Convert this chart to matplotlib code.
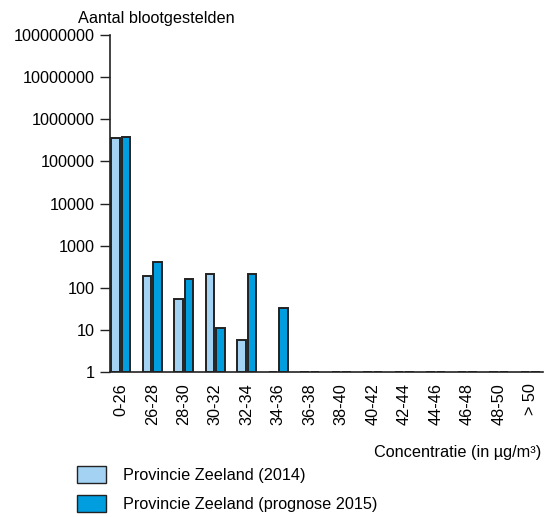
import numpy as np
import matplotlib
matplotlib.use("Agg")
import matplotlib.pyplot as plt
from matplotlib.patches import Patch

plt.rcParams['font.family'] = ['Liberation Sans', 'DejaVu Sans']

categories = ['0-26', '26-28', '28-30', '30-32', '32-34', '34-36', '36-38',
              '38-40', '40-42', '42-44', '44-46', '46-48', '48-50', '> 50']
zeeland_2014 = [370000, 190, 53, 210, 5.6, 0, 0, 0, 0, 0, 0, 0, 0, 0]
zeeland_2015 = [375000, 400, 166, 11.3, 210, 34, 0, 0, 0, 0, 0, 0, 0, 0]
yticks = [1, 10, 100, 1000, 10000, 100000, 1000000, 10000000, 100000000]

light = '#a3d2f3'
dark = '#009ddf'
edge = '#222222'
fs = 11.7

fig = plt.figure(figsize=(5.44, 5.17), dpi=100)
ax = fig.add_axes([0.202, 0.2805, 0.796, 0.6515])

x = np.arange(len(categories))
w = 0.27
off = 0.165
h1 = np.maximum(zeeland_2014, 1) - 1
h2 = np.maximum(zeeland_2015, 1) - 1
ax.bar(x - off, h1, w, bottom=1, color=light, edgecolor=edge, linewidth=1.4)
ax.bar(x + off, h2, w, bottom=1, color=dark, edgecolor=edge, linewidth=1.4)

ax.set_yscale('log')
ax.set_ylim(1, 1e8)
ax.set_xlim(-0.35, 13.4)
ax.set_yticks(yticks)
ax.set_yticklabels([str(v) for v in yticks], fontsize=fs)
ax.minorticks_off()
ax.set_xticks(x)
ax.set_xticklabels(categories, rotation=90, fontsize=fs)
ax.tick_params(axis='x', length=0, pad=8)
ax.tick_params(axis='y', length=7, width=1, color='#222222', pad=4)

for s in ['top', 'right']:
    ax.spines[s].set_visible(False)
for s in ['left', 'bottom']:
    ax.spines[s].set_linewidth(1.2)
    ax.spines[s].set_color('#222222')

fig.text(78 / 544, 1 - 18 / 517, 'Aantal blootgestelden', fontsize=fs,
         ha='left', va='center')
fig.text(541 / 544, 1 - 452 / 517, 'Concentratie (in µg/m³)', fontsize=fs,
         ha='right', va='center')

handles = [Patch(facecolor=light, edgecolor=edge, linewidth=1.0),
           Patch(facecolor=dark, edgecolor=edge, linewidth=1.0)]
fig.legend(handles, ['Provincie Zeeland (2014)', 'Provincie Zeeland (prognose 2015)'],
           loc='upper left', bbox_to_anchor=(72 / 544, 1 - 461 / 517),
           frameon=False, fontsize=fs, handlelength=1.8, handleheight=1.2,
           handletextpad=1.05, labelspacing=0.75, borderaxespad=0, borderpad=0.3)

fig.savefig('out.png', dpi=100)
